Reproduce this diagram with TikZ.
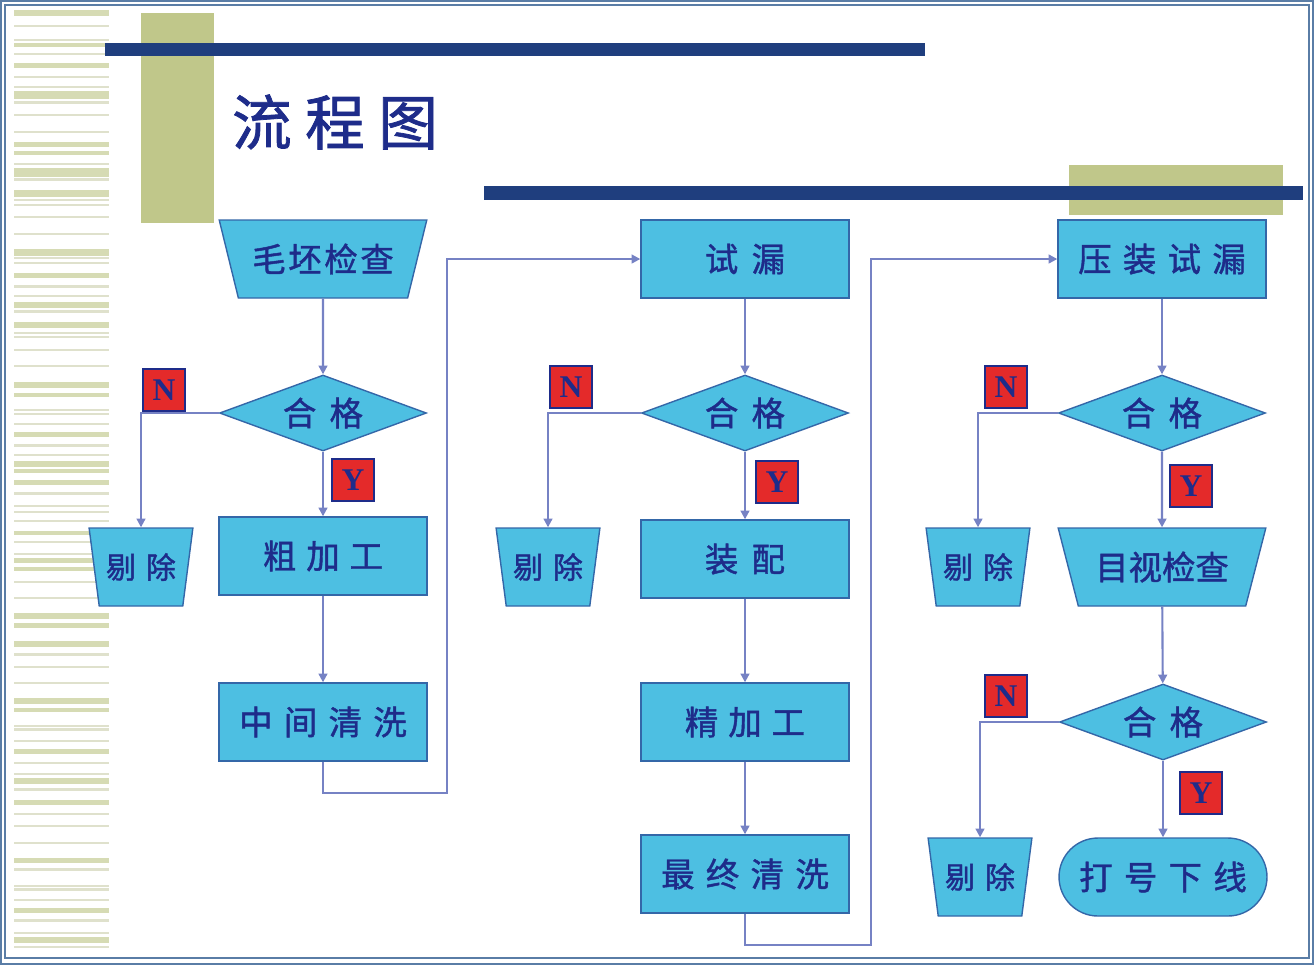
\documentclass[tikz,border=0pt]{standalone}
\usepackage{fontspec}
\setmainfont{Liberation Serif}
\newfontfamily\cjk[FakeBold=1.3]{Noto Sans CJK SC}
\usetikzlibrary{shapes.geometric,arrows.meta,positioning}

\definecolor{framecol}{HTML}{5A7DA6}
\definecolor{stripecol}{HTML}{D6DBB4}
\definecolor{stripelight}{HTML}{DFE1CC}
\definecolor{olive}{HTML}{C0C78A}
\definecolor{navy}{HTML}{1F3E7E}
\definecolor{nodefill}{HTML}{4DBFE2}
\definecolor{nodeline}{HTML}{3467A8}
\definecolor{nodetext}{HTML}{1E2C8A}
\definecolor{flowcol}{HTML}{7682C4}
\definecolor{flagred}{HTML}{E42A2A}

% gap between two characters of a label
\newcommand{\cgap}[1][0.34em]{\hspace{#1}}

\begin{document}
\begin{tikzpicture}[
    x=0.02cm, y=-0.02cm,
    process/.style={rectangle, draw=nodeline, fill=nodefill, line width=0.8pt, minimum width=4.16cm, minimum height=1.56cm, text=nodetext, font=\cjk\fontsize{19}{21}\selectfont},
    inspect/.style={trapezium, trapezium left angle=62.6, trapezium right angle=62.6, shape border rotate=180, trapezium stretches, draw=nodeline, fill=nodefill, line width=0.8pt, minimum width=4.16cm, minimum height=1.56cm, inner sep=0pt, text=nodetext, font=\cjk\fontsize{19}{21}\selectfont},
    reject/.style={inspect, trapezium left angle=73, trapezium right angle=73, minimum width=2.08cm, font=\cjk\fontsize{17}{19}\selectfont},
    decision/.style={diamond, aspect=2.7, draw=nodeline, fill=nodefill, line width=0.8pt, minimum width=4.14cm, minimum height=1.52cm, inner sep=0pt, text=nodetext, font=\cjk\fontsize{19}{21}\selectfont},
    terminal/.style={process, rounded corners=0.78cm},
    ynbox/.style={rectangle, draw=nodetext, fill=flagred, line width=0.6pt, minimum width=0.84cm, minimum height=0.84cm, inner sep=0pt, text=nodetext, font=\bfseries\fontsize{18}{18}\selectfont},
    flow/.style={-{Triangle[width=5pt,length=5pt]}, draw=flowcol, line width=1.2pt},
    title/.style={text=nodetext, font=\cjk\fontsize{34}{36}\selectfont}
]
\useasboundingbox (0,0) rectangle (1314,965);

% Slide frame (double line)
\draw[framecol, line width=0.05cm] (1,1) rectangle (1313,964);
\draw[framecol, line width=0.025cm] (5,5) rectangle (1309,958);

% Striped margin on the left
\foreach \y/\h in {10/6, 43/4, 63/5, 91/8, 142/5, 151/4, 168/9, 190/7, 249/7, 273/5, 302/6, 322/6, 382/6, 393/4, 432/5, 461/6, 469/4, 480/5, 531/4, 558/5, 567/4, 613/6, 623/5, 641/6, 698/6, 708/4, 749/5, 778/6, 800/5, 858/5, 908/5, 937/6}
    \fill[stripecol] (14,\y) rectangle (109,\y+\h);
\foreach \y/\h in {25/2, 39/1.5, 53/1.5, 76/2, 86/1.5, 101/2.5, 114/2, 131/2, 163/1.5, 178/3, 199/2, 204/2, 216/1.5, 233/1.5, 257/1.5, 262/2, 285/3, 295/2, 310/3, 332/1.5, 336/2, 349/2, 365/2, 409/2, 413/2, 423/2, 444/3, 454/1.5, 492/3, 505/2, 511/2, 520/2, 541/2, 553/1.5, 581/1.5, 597/2, 653/3, 666/1.5, 682/2, 725/2, 728/3, 740/2, 762/2, 773/1.5, 788/3, 813/1.5, 825/2, 842/1.5, 868/3, 885/2, 888/3, 899/1.5, 919/3, 932/1.5, 946/2}
    \fill[stripelight] (14,\y) rectangle (109,\y+\h);

% Title blocks and bars
\fill[olive] (141,13) rectangle (214,223);
\fill[navy] (105,43) rectangle (925,56);
\fill[olive] (1069,165) rectangle (1283,215);
\fill[navy] (484,186) rectangle (1303,200);
\node[title] (heading) at (335,122) {流 程 图};

% Column 1: blank inspection and rough machining
\node[inspect] (blank) at (323,259) {毛\cgap[0.08em]坯\cgap[0.08em]检\cgap[0.08em]查};
\node[decision] (ok1) at (323,413) {合\cgap[0.4em]格};
\node[reject] (rej1) at (141,567) {剔\cgap 除};
\node[process] (rough) at (323,556) {粗\cgap[0.3em]加\cgap[0.3em]工};
\node[process] (wash1) at (323,722) {中\cgap 间\cgap 清\cgap 洗};

% Column 2: leak test and assembly
\node[process] (leak) at (745,259) {试\cgap[0.4em]漏};
\node[decision] (ok2) at (745,413) {合\cgap[0.4em]格};
\node[reject] (rej2) at (548,567) {剔\cgap 除};
\node[process] (assy) at (745,559) {装\cgap[0.4em]配};
\node[process] (finish) at (745,722) {精\cgap[0.3em]加\cgap[0.3em]工};
\node[process] (wash2) at (745,874) {最\cgap 终\cgap 清\cgap 洗};

% Column 3: press-fit leak test and final checks
\node[process] (pleak) at (1162,259) {压\cgap 装\cgap 试\cgap 漏};
\node[decision] (ok3) at (1162,413) {合\cgap[0.4em]格};
\node[reject] (rej3) at (978,567) {剔\cgap 除};
\node[inspect] (visual) at (1162,567) {目视检查};
\node[decision] (ok4) at (1163,722) {合\cgap[0.4em]格};
\node[reject] (rej4) at (980,877) {剔\cgap 除};
\node[terminal] (mark) at (1163,877) {打\cgap 号\cgap 下\cgap 线};

% Y / N flags
\node[ynbox] (n1) at (164,390) {N};
\node[ynbox] (y1) at (353,480) {Y};
\node[ynbox] (n2) at (571,387) {N};
\node[ynbox] (y2) at (777,482) {Y};
\node[ynbox] (n3) at (1006,387) {N};
\node[ynbox] (y3) at (1191,486) {Y};
\node[ynbox] (n4) at (1006,696) {N};
\node[ynbox] (y4) at (1201,793) {Y};

% Main flow
\draw[flow] (blank) -- (ok1);
\draw[flow] (ok1) -- (rough);
\draw[flow] (rough) -- (wash1);
\draw[flow] (leak) -- (ok2);
\draw[flow] (ok2) -- (assy);
\draw[flow] (assy) -- (finish);
\draw[flow] (finish) -- (wash2);
\draw[flow] (pleak) -- (ok3);
\draw[flow] (ok3) -- (visual);
\draw[flow] (visual) -- (ok4);
\draw[flow] (ok4.south) -- (mark.north -| ok4.south);

% Rejected parts
\draw[flow] (ok1.west) -| (rej1.north);
\draw[flow] (ok2.west) -| (rej2.north);
\draw[flow] (ok3.west) -| (rej3.north);
\draw[flow] (ok4.west) -| (rej4.north);

% Hand-over between columns
\coordinate (bend1) at (447,793);
\coordinate (bend2) at (871,945);
\draw[flow] (wash1.south) |- (bend1) |- (leak.west);
\draw[flow] (wash2.south) |- (bend2) |- (pleak.west);

\end{tikzpicture}
\end{document}
